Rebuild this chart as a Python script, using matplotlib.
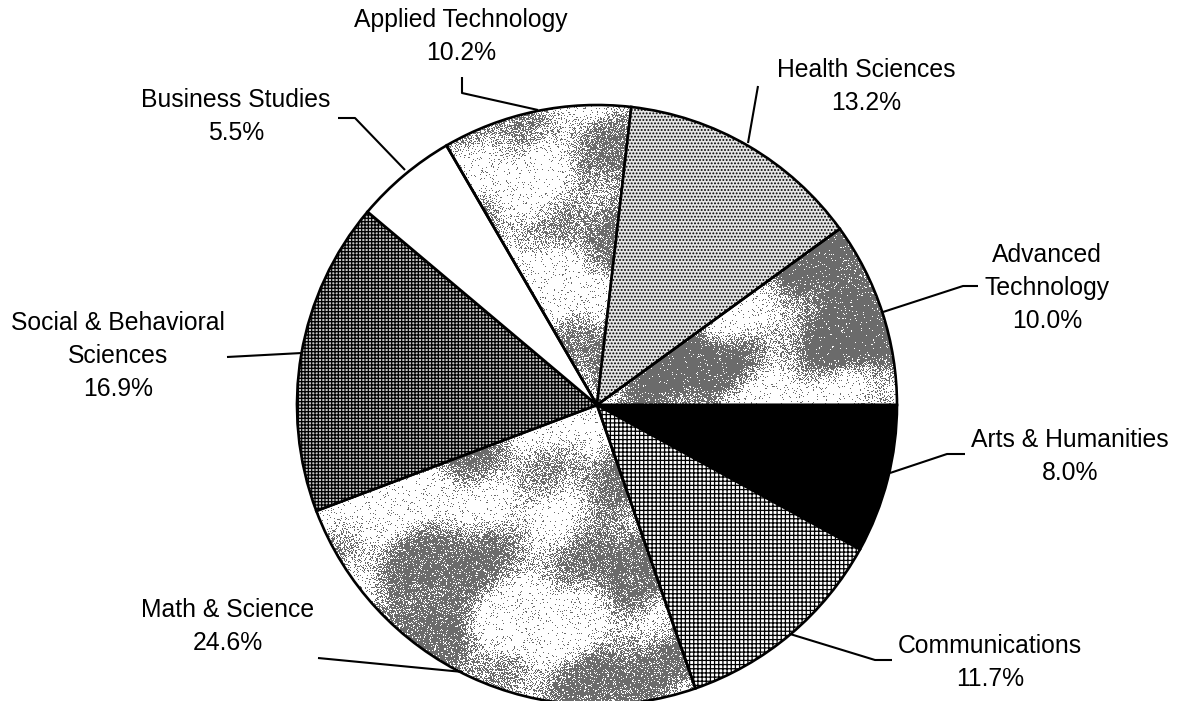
import numpy as np
import matplotlib
matplotlib.use("Agg")
import matplotlib.pyplot as plt

# Program share by division (percent), clockwise from 3 o'clock
categories = ["Arts & Humanities", "Communications", "Math & Science",
              "Social & Behavioral\nSciences", "Business Studies",
              "Applied Technology", "Health Sciences", "Advanced\nTechnology"]
shares = [8.0, 11.7, 24.6, 16.9, 5.5, 10.2, 13.2, 10.0]

W, H = 1179, 701
plt.rcParams["font.family"] = ["Liberation Sans", "DejaVu Sans"]
plt.rcParams["hatch.linewidth"] = 0.9


def Y(y):
    """Convert a top-down pixel row into the axes' upward y coordinate."""
    return H - y


fig = plt.figure(figsize=(W / 100, H / 100), dpi=100)
ax = fig.add_axes([0, 0, 1, 1])

cx, cy, R = 597, 405, 300
wedges, _ = ax.pie(shares, startangle=0, counterclock=False,
                   center=(cx, Y(cy)), radius=R, normalize=True,
                   wedgeprops=dict(edgecolor="black", linewidth=1.9))

# Fill styles: (facecolor, hatch, cloud texture (density, phase, coverage) or None)
fills = [
    ("black", None, None),
    ("white", "++++", None),
    ("none", None, (0.80, 0.0, 0.30)),
    ("#c4c4c4", "+++++", None),
    ("white", None, None),
    ("none", None, (0.75, 1.7, 0.25)),
    ("#e6e6e6", ".....", None),
    ("none", None, (0.90, 3.1, 0.40)),
]

yy, xx = np.mgrid[0:H, 0:W].astype(float)
# pixel-level hash used as a halftone threshold (gives the grainy print look)
grain = np.modf(np.abs(np.sin(xx * 12.9898 + yy * 78.233) * 43758.5453))[0]


def clouds(density, phase, shift):
    f = (0.5 * np.sin(xx / 31 + 0.8 * np.sin(yy / 47 + phase))
         + 0.5 * np.sin(yy / 17 + 0.7 * np.sin(xx / 53 - phase))
         + 0.35 * np.sin((xx - yy) / 39 + 2 * phase)
         + 0.35 * np.sin((xx + 2 * yy) / 61 - phase)
         + 0.25 * np.sin(xx / 13 + yy / 21 + 3 * phase))
    t = np.clip((f + shift + 0.3) / 1.4, 0, 1)
    t = t * t * (3 - 2 * t)
    p = 0.06 + density * t           # share of grey specks at each spot
    return np.where(grain < p, 0.42, 1.0)


for w, (fc, hatch, cloud) in zip(wedges, fills):
    w.set_facecolor(fc)
    if hatch:
        w.set_hatch(hatch)
    if cloud is not None:
        tex = clouds(*cloud)
        im = ax.imshow(tex, extent=(0, W, 0, H), origin="upper", cmap="gray",
                       vmin=0, vmax=1, zorder=0.5, interpolation="nearest")
        im.set_clip_path(w)

# Label anchors (center x, first baseline y) and leader polylines, in pixels
label_pos = [(1070, 447), (990, 653), (228, 617), (118, 330),
             (236, 107), (461, 27), (866, 77), (1047, 262)]
leaders = [
    [(890, 473), (947, 454), (965, 454)],
    [(790, 634), (875, 660), (892, 660)],
    [(463, 672), (318, 658)],
    [(302, 353), (227, 357)],
    [(405, 170), (355, 118), (338, 118)],
    [(538, 110), (462, 93), (462, 77)],
    [(748, 143), (758, 86)],
    [(883, 312), (963, 286), (978, 286)],
]
line_gap = 33

for name, val, (lx, ly), pts in zip(categories, shares, label_pos, leaders):
    lines = name.split("\n") + [f"{val:.1f}%"]
    for i, s in enumerate(lines):
        ax.text(lx, Y(ly + i * line_gap), s, ha="center", va="baseline",
                fontsize=17.8, color="black")
    px = [p[0] for p in pts]
    py = [Y(p[1]) for p in pts]
    ax.plot(px, py, color="black", lw=1.5, solid_capstyle="butt", zorder=3)

ax.set_xlim(0, W)
ax.set_ylim(0, H)
ax.set_aspect("equal")
ax.axis("off")
fig.savefig("out.png", dpi=100, facecolor="white")
